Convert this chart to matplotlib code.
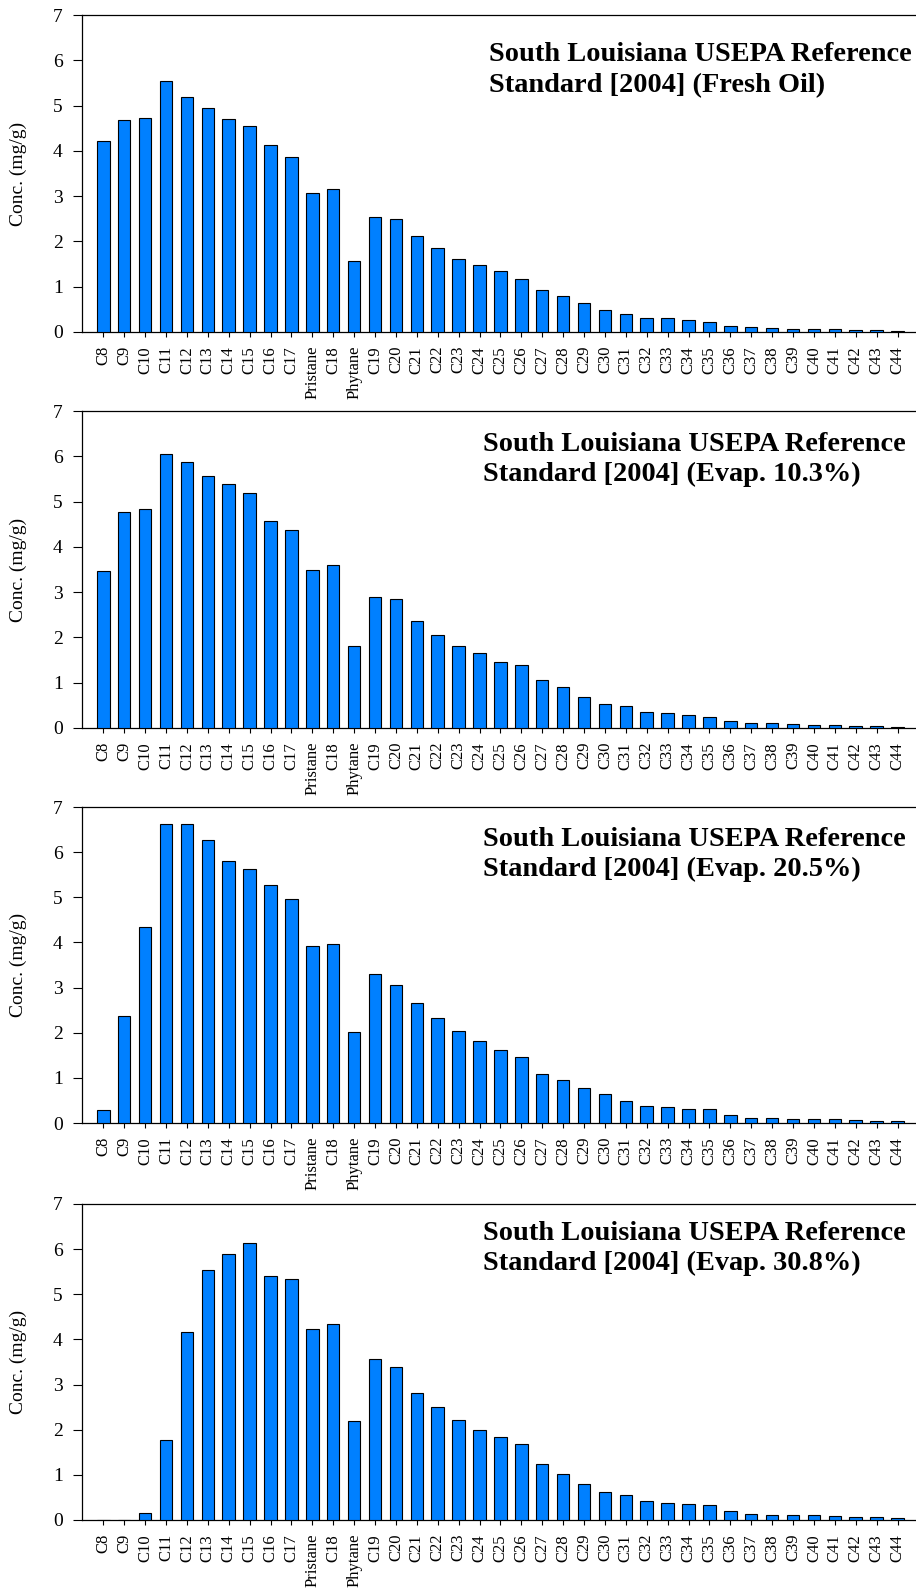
import matplotlib
matplotlib.use("Agg")
import matplotlib.pyplot as plt
import numpy as np

categories = ["C8", "C9", "C10", "C11", "C12", "C13", "C14", "C15", "C16", "C17",
              "Pristane", "C18", "Phytane", "C19", "C20", "C21", "C22", "C23", "C24",
              "C25", "C26", "C27", "C28", "C29", "C30", "C31", "C32", "C33", "C34",
              "C35", "C36", "C37", "C38", "C39", "C40", "C41", "C42", "C43", "C44"]

fresh_oil = [4.22, 4.68, 4.72, 5.54, 5.20, 4.94, 4.71, 4.54, 4.12, 3.87,
             3.07, 3.15, 1.57, 2.55, 2.49, 2.11, 1.85, 1.61, 1.47,
             1.34, 1.18, 0.93, 0.79, 0.63, 0.49, 0.40, 0.32, 0.30, 0.26,
             0.22, 0.125, 0.10, 0.08, 0.07, 0.06, 0.06, 0.045, 0.035, 0.02]

evap_10_3 = [3.46, 4.77, 4.84, 6.06, 5.87, 5.56, 5.39, 5.18, 4.57, 4.38,
             3.49, 3.60, 1.80, 2.89, 2.84, 2.37, 2.06, 1.81, 1.65,
             1.46, 1.40, 1.05, 0.90, 0.69, 0.52, 0.48, 0.35, 0.33, 0.28,
             0.25, 0.15, 0.11, 0.10, 0.08, 0.07, 0.06, 0.05, 0.04, 0.03]

evap_20_5 = [0.29, 2.38, 4.34, 6.62, 6.62, 6.27, 5.80, 5.63, 5.27, 4.97,
             3.91, 3.97, 2.01, 3.30, 3.06, 2.65, 2.32, 2.03, 1.82,
             1.61, 1.46, 1.09, 0.95, 0.77, 0.65, 0.49, 0.37, 0.35, 0.32,
             0.31, 0.18, 0.12, 0.10, 0.09, 0.09, 0.08, 0.07, 0.05, 0.04]

evap_30_8 = [0.0, 0.0, 0.15, 1.78, 4.17, 5.53, 5.89, 6.14, 5.41, 5.33,
             4.23, 4.35, 2.20, 3.56, 3.39, 2.81, 2.51, 2.21, 2.00,
             1.83, 1.68, 1.23, 1.01, 0.80, 0.63, 0.55, 0.41, 0.38, 0.35,
             0.33, 0.21, 0.14, 0.12, 0.10, 0.10, 0.08, 0.07, 0.06, 0.04]

series = [fresh_oil, evap_10_3, evap_20_5, evap_30_8]
titles = [("South Louisiana USEPA Reference", "Standard [2004] (Fresh Oil)"),
          ("South Louisiana USEPA Reference", "Standard [2004] (Evap. 10.3%)"),
          ("South Louisiana USEPA Reference", "Standard [2004] (Evap. 20.5%)"),
          ("South Louisiana USEPA Reference", "Standard [2004] (Evap. 30.8%)")]
yticks = [0, 1, 2, 3, 4, 5, 6, 7]

W, H = 916, 1591
plt.rcParams['font.family'] = ['Liberation Serif', 'DejaVu Serif']
fig = plt.figure(figsize=(W / 100, H / 100), dpi=100)

# panel pixel extents (top, bottom)
panels = [(15, 332), (411, 728), (807, 1123), (1204, 1520)]
title_pos = [(489, 60.7, 91.7), (483, 450.7, 480.7), (483, 845.7, 875.7), (483, 1239.5, 1270)]
left_px, right_px = 82.4, 918.4

x = np.arange(len(categories))
for i, (vals, (top, bot)) in enumerate(zip(series, panels)):
    ax = fig.add_axes([left_px / W, 1 - bot / H, (right_px - left_px) / W, (bot - top) / H])
    ax.bar(x, vals, width=0.6, color="#0080FF", edgecolor="black", linewidth=0.8, zorder=3)
    ax.set_xlim(-1, 39)
    ax.set_ylim(0, 7)
    ax.set_yticks(yticks)
    ax.set_yticklabels([str(t) for t in yticks], fontsize=14)
    ax.set_xticks(x)
    ax.set_xticklabels(categories, rotation=90, fontsize=12)
    ax.tick_params(axis='y', direction='out', length=6.2, width=0.8, pad=8)
    ax.tick_params(axis='x', direction='out', length=3.5, width=0.8, pad=6.5)
    for s in ax.spines.values():
        s.set_linewidth(0.9)
    fig.text(18 / W, 1 - ((top + bot) / 2) / H, "Conc. (mg/g)", rotation=90,
             ha='center', va='center', fontsize=14)
    tx, b1, b2 = title_pos[i]
    fig.text(tx / W, 1 - b1 / H, titles[i][0], fontsize=20.4, fontweight='bold',
             ha='left', va='baseline')
    fig.text(tx / W, 1 - b2 / H, titles[i][1], fontsize=20.4, fontweight='bold',
             ha='left', va='baseline')

fig.savefig("out.png", dpi=100)
